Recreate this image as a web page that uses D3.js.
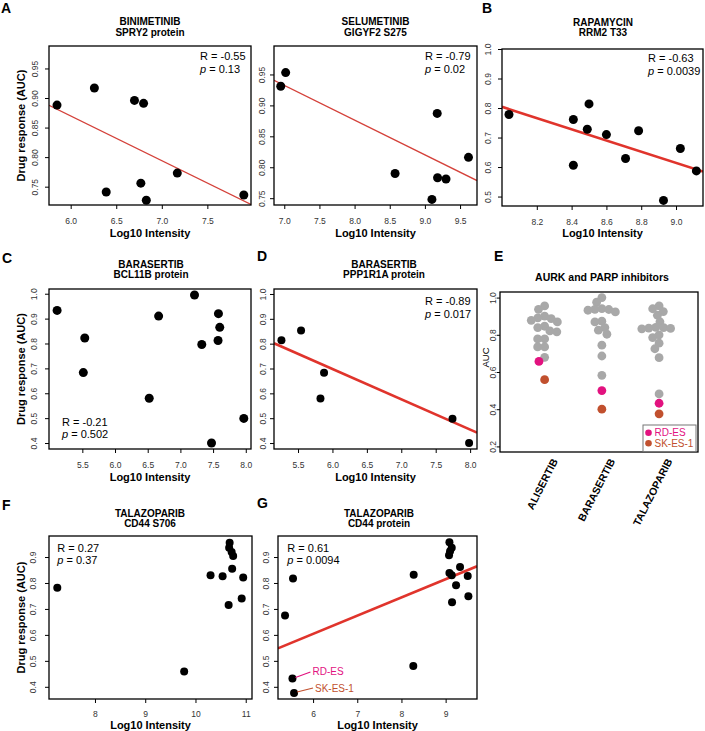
<!DOCTYPE html>
<html><head><meta charset="utf-8">
<script src="https://cdn.jsdelivr.net/npm/d3@7"></script>
<style>body{margin:0;background:#fff}</style>
</head><body>
<script>
// ---------------- DATA ----------------
// A (left): BINIMETINIB vs SPRY2 protein
const binimetinibX = [5.85, 6.26, 6.70, 6.80, 6.39, 6.77, 6.83, 7.17, 7.90];
const binimetinibY = [0.888, 0.917, 0.896, 0.891, 0.741, 0.756, 0.727, 0.773, 0.736];
const binimetinibFit = [1.324, -0.0757];
const binimetinibStats = ["R = -0.55", "0.13"];
// A (right): SELUMETINIB vs GIGYF2 S275
const selumetinibX = [6.95, 7.02, 9.175, 8.576, 9.18, 9.30, 9.10, 9.62];
const selumetinibY = [0.931, 0.953, 0.887, 0.790, 0.783, 0.781, 0.748, 0.816];
const selumetinibFit = [1.325, -0.0561];
const selumetinibStats = ["R = -0.79", "0.02"];
// B: RAPAMYCIN vs RRM2 T33
const rapamycinX = [8.04, 8.41, 8.50, 8.49, 8.60, 8.41, 8.785, 8.71, 9.025, 9.117, 8.928];
const rapamycinY = [0.778, 0.761, 0.814, 0.728, 0.710, 0.606, 0.723, 0.629, 0.663, 0.587, 0.487];
const rapamycinFit = [2.324, -0.190];
const rapamycinStats = ["R = -0.63", "0.0039"];
// C: BARASERTIB vs BCL11B protein
const baraBcl11bX = [5.114, 5.537, 5.515, 6.523, 6.667, 7.216, 7.327, 7.582, 7.602, 7.576, 7.476, 7.97];
const baraBcl11bY = [0.933, 0.822, 0.683, 0.580, 0.910, 0.995, 0.796, 0.920, 0.865, 0.812, 0.400, 0.499];
const baraBcl11bStats = ["R = -0.21", "0.502"];
// D: BARASERTIB vs PPP1R1A protein
const baraPpp1r1aX = [5.259, 5.544, 5.878, 5.826, 7.744, 7.985];
const baraPpp1r1aY = [0.814, 0.853, 0.683, 0.579, 0.498, 0.400];
const baraPpp1r1aFit = [1.430, -0.122];
const baraPpp1r1aStats = ["R = -0.89", "0.017"];
// E: AURK and PARP inhibitors (AUC per cell line)
const eCategories = ["ALISERTIB", "BARASERTIB", "TALAZOPARIB"];
const eGrey = [
  [0.955,0.937,0.900,0.891,0.887,0.878,0.869,0.846,0.839,0.821,0.816,0.778,0.778,0.735,0.735,0.679],
  [1.0,0.975,0.941,0.936,0.937,0.932,0.923,0.873,0.869,0.839,0.825,0.803,0.744,0.686,0.582],
  [0.955,0.940,0.925,0.905,0.870,0.840,0.838,0.836,0.834,0.832,0.800,0.785,0.755,0.725,0.677,0.482]
];
const eRdEs = [0.657, 0.500, 0.432];
const eSkEs1 = [0.559, 0.400, 0.375];
const eLegend = ["RD-ES", "SK-ES-1"];
// F: TALAZOPARIB vs CD44 S706
const talaS706X = [7.25, 9.775, 10.30, 10.54, 10.95, 10.92, 10.66, 10.73, 10.68, 10.67, 10.72, 10.75];
const talaS706Y = [0.782, 0.459, 0.830, 0.826, 0.821, 0.740, 0.715, 0.855, 0.955, 0.936, 0.919, 0.904];
const talaS706Stats = ["R = 0.27", "0.37"];
// G: TALAZOPARIB vs CD44 protein
const talaCd44X = [5.365, 5.546, 5.533, 5.569, 8.277, 8.268, 9.086, 9.138, 9.10, 9.077, 9.086, 9.326, 9.138, 9.50, 9.236, 9.145, 9.515];
const talaCd44Y = [0.675, 0.817, 0.432, 0.376, 0.832, 0.480, 0.957, 0.936, 0.922, 0.907, 0.838, 0.862, 0.830, 0.827, 0.791, 0.726, 0.749];
const talaCd44Fit = [0.1826, 0.0702];
const talaCd44Stats = ["R = 0.61", "0.0094"];
const talaCd44Labels = [{i: 2, text: "RD-ES"}, {i: 3, text: "SK-ES-1"}];

// ---------------- DRAWING ----------------
const FONT = '"Liberation Sans", Arial, Helvetica, sans-serif';
const MAGENTA = '#e2127f', BROWN = '#c1502e', GREY = '#a8a8a8';
const svg = d3.select('body').append('svg')
  .attr('width', 705).attr('height', 731)
  .style('font-family', FONT);
svg.append('rect').attr('width', 705).attr('height', 731).attr('fill', '#fff');

function letter(t, x, y) {
  svg.append('text').attr('x', x).attr('y', y).text(t)
    .attr('font-size', 14).attr('font-weight', 'bold');
}
function title(lines, cx, y1, y2) {
  svg.append('text').attr('x', cx).attr('y', y1).text(lines[0])
    .attr('font-size', 10).attr('font-weight', 'bold').attr('text-anchor', 'middle');
  if (lines[1]) svg.append('text').attr('x', cx).attr('y', y2).text(lines[1])
    .attr('font-size', 10).attr('font-weight', 'bold').attr('text-anchor', 'middle');
}
function yAxis(g, y, x0, ticks, fmt, off, tick) {
  const ga = g.append('g').attr('transform', `translate(${x0},0)`)
    .call(d3.axisLeft(y).tickValues(ticks).tickFormat(d3.format(fmt)).tickSize(tick || 4).tickSizeOuter(0));
  ga.attr('font-family', null).attr('font-size', 8.5);
  ga.select('.domain').remove();
  ga.selectAll('line').attr('stroke', '#000');
  ga.selectAll('text').attr('x', 0).attr('dy', 0).attr('text-anchor', 'middle')
    .attr('fill', '#333').attr('transform', `translate(${-off},0) rotate(-90)`);
}
function xAxis(g, x, y1, ticks, fmt, pad) {
  const ga = g.append('g').attr('transform', `translate(0,${y1})`)
    .call(d3.axisBottom(x).tickValues(ticks).tickFormat(d3.format(fmt)).tickSize(4).tickPadding(pad).tickSizeOuter(0));
  ga.attr('font-family', null).attr('font-size', 8.5);
  ga.select('.domain').remove();
  ga.selectAll('line').attr('stroke', '#000');
  ga.selectAll('text').attr('fill', '#333');
}
function stats(s, x, y, dy) {
  svg.append('text').attr('x', x).attr('y', y).text(s[0]).attr('font-size', 11);
  const t = svg.append('text').attr('x', x).attr('y', y + dy).attr('font-size', 11);
  t.append('tspan').attr('font-style', 'italic').text('p');
  t.append('tspan').text(' = ' + s[1]);
}

function scatter(p) {
  const x = d3.scaleLinear().domain(p.xDom).range([p.x0, p.x1]);
  const y = d3.scaleLinear().domain(p.yDom).range([p.y1, p.y0]);
  const g = svg.append('g');
  xAxis(g, x, p.y1, p.xTicks, p.xFmt, p.xPad);
  yAxis(g, y, p.x0, p.yTicks, p.yFmt, p.yOff);
  const clip = 'clip' + Math.round(p.x0) + '_' + Math.round(p.y0);
  svg.append('clipPath').attr('id', clip).append('rect')
    .attr('x', p.x0).attr('y', p.y0).attr('width', p.x1 - p.x0).attr('height', p.y1 - p.y0);
  if (p.fit) {
    const [a, b] = p.fit;
    g.append('line').attr('clip-path', `url(#${clip})`)
      .attr('x1', x(p.xDom[0])).attr('y1', y(a + b * p.xDom[0]))
      .attr('x2', x(p.xDom[1])).attr('y2', y(a + b * p.xDom[1]))
      .attr('stroke', p.fitColor).attr('stroke-width', p.fitW);
  }
  g.selectAll('circle.pt').data(p.xs.map((v, i) => [v, p.ys[i]])).join('circle')
    .attr('class', 'pt').attr('cx', d => x(d[0])).attr('cy', d => y(d[1])).attr('r', p.r).attr('fill', '#000');
  g.append('rect').attr('x', p.x0).attr('y', p.y0).attr('width', p.x1 - p.x0).attr('height', p.y1 - p.y0)
    .attr('fill', 'none').attr('stroke', '#000').attr('stroke-width', 1.3);
  svg.append('text').attr('x', (p.x0 + p.x1) / 2).attr('y', p.y1 + p.xLabGap).text('Log10 Intensity')
    .attr('font-size', 11).attr('font-weight', 'bold').attr('text-anchor', 'middle');
  if (p.yLab) svg.append('text')
    .attr('transform', `translate(${p.x0 - 24},${(p.y0 + p.y1) / 2}) rotate(-90)`)
    .attr('text-anchor', 'middle').attr('font-size', 11).attr('font-weight', 'bold').text(p.yLab);
  stats(p.stats, p.sx, p.sy, 12.7);
  return {x, y};
}

// Panel A
letter('A', 1, 12.5);
title(['BINIMETINIB', 'SPRY2 protein'], 150, 25, 35.5);
scatter({x0: 49, x1: 251, y0: 46, y1: 205, xDom: [5.762, 7.979], yDom: [0.719, 0.988],
  xTicks: [6, 6.5, 7, 7.5], xFmt: '.1f', yTicks: [0.75, 0.8, 0.85, 0.9, 0.95], yFmt: '.2f',
  xs: binimetinibX, ys: binimetinibY, fit: binimetinibFit, fitColor: '#d4413a', fitW: 1.3, r: 4.5,
  xPad: 8.5, yOff: 11, xLabGap: 32, yLab: 'Drug response (AUC)', stats: binimetinibStats, sx: 200, sy: 60});
title(['SELUMETINIB', 'GIGYF2 S275'], 375.5, 25, 35.5);
scatter({x0: 274, x1: 477, y0: 46, y1: 205, xDom: [6.854, 9.741], yDom: [0.739, 0.996],
  xTicks: [7, 7.5, 8, 8.5, 9, 9.5], xFmt: '.1f', yTicks: [0.75, 0.8, 0.85, 0.9, 0.95], yFmt: '.2f',
  xs: selumetinibX, ys: selumetinibY, fit: selumetinibFit, fitColor: '#d4413a', fitW: 1.3, r: 4.5,
  xPad: 8.5, yOff: 9, xLabGap: 32, stats: selumetinibStats, sx: 425, sy: 60});

// Panel B
letter('B', 482, 12.5);
title(['RAPAMYCIN', 'RRM2 T33'], 603, 26, 36);
scatter({x0: 502, x1: 703, y0: 49, y1: 206, xDom: [8.0, 9.155], yDom: [0.468, 1.0],
  xTicks: [8.2, 8.4, 8.6, 8.8, 9.0], xFmt: '.1f', yTicks: [0.5, 0.6, 0.7, 0.8, 0.9, 1.0], yFmt: '.1f',
  xs: rapamycinX, ys: rapamycinY, fit: rapamycinFit, fitColor: '#e0342c', fitW: 2.6, r: 4.5,
  xPad: 8.5, yOff: 11, xLabGap: 31, stats: rapamycinStats, sx: 648, sy: 62});

// Panel C
letter('C', 2, 263);
title(['BARASERTIB', 'BCL11B protein'], 151, 268, 278);
scatter({x0: 49, x1: 251, y0: 289, y1: 449, xDom: [4.99, 8.08], yDom: [0.376, 1.019],
  xTicks: [5.5, 6, 6.5, 7, 7.5, 8], xFmt: '.1f', yTicks: [0.4, 0.5, 0.6, 0.7, 0.8, 0.9, 1.0], yFmt: '.1f',
  xs: baraBcl11bX, ys: baraBcl11bY, r: 4.5,
  xPad: 8.5, yOff: 12, xLabGap: 32, yLab: 'Drug response (AUC)', stats: baraBcl11bStats, sx: 62, sy: 425.7});

// Panel D
letter('D', 257, 261);
title(['BARASERTIB', 'PPP1R1A protein'], 384, 268, 278);
scatter({x0: 274, x1: 477, y0: 289, y1: 449, xDom: [5.151, 8.10], yDom: [0.376, 1.02],
  xTicks: [5.5, 6, 6.5, 7, 7.5, 8], xFmt: '.1f', yTicks: [0.4, 0.5, 0.6, 0.7, 0.8, 0.9, 1.0], yFmt: '.1f',
  xs: baraPpp1r1aX, ys: baraPpp1r1aY, fit: baraPpp1r1aFit, fitColor: '#e0342c', fitW: 2.6, r: 4,
  xPad: 8.5, yOff: 8.5, xLabGap: 32, stats: baraPpp1r1aStats, sx: 425, sy: 305});

// Panel E
letter('E', 494, 261);
svg.append('text').attr('x', 602).attr('y', 281).text('AURK and PARP inhibitors')
  .attr('font-size', 10.5).attr('font-weight', 'bold').attr('text-anchor', 'middle');
(function () {
  const E = {x0: 500, x1: 698, y0: 292, y1: 452};
  const y = d3.scaleLinear().domain([0.17, 1.03]).range([E.y1, E.y0]);
  const x = d3.scaleLinear().domain([0.22, 3.68]).range([E.x0, E.x1]);
  const g = svg.append('g');
  yAxis(g, y, E.x0, [0.2, 0.4, 0.6, 0.8, 1.0], '.1f', 4, 3.3);
  const xa = g.append('g').attr('transform', `translate(0,${E.y1})`)
    .call(d3.axisBottom(x).tickValues([1, 2, 3]).tickFormat(i => eCategories[i - 1]).tickSize(0));
  xa.attr('font-family', null).attr('font-size', 10.5).attr('font-weight', 'bold');
  xa.select('.domain').remove();
  xa.selectAll('text').attr('y', 0).attr('dy', 0).attr('text-anchor', 'end')
    .attr('transform', 'translate(13,9) rotate(-63)');
  svg.append('text').attr('transform', `translate(488.5,357.5) rotate(-90)`)
    .attr('text-anchor', 'middle').attr('font-size', 9.5).text('AUC');

  const D = 7, R = 4.4;
  function swarm(items, cx) {
    const pts = items.map(d => ({...d, py: y(d.v)})).sort((a, b) => a.py - b.py);
    const placed = [];
    for (const p of pts) {
      const cands = [0];
      for (const q of placed) {
        const dy = Math.abs(q.py - p.py);
        if (dy < D) { const dx = Math.sqrt(D * D - dy * dy); cands.push(q.dx + dx, q.dx - dx); }
      }
      cands.sort((a, b) => Math.abs(a) - Math.abs(b) || a - b);
      for (const c of cands) {
        if (placed.every(q => (q.dx - c) ** 2 + (q.py - p.py) ** 2 >= D * D - 1e-6)) { p.dx = c; break; }
      }
      placed.push(p);
    }
    return placed.map(p => ({...p, px: cx + p.dx}));
  }
  eCategories.forEach((c, i) => {
    const items = eGrey[i].map(v => ({v, col: GREY}))
      .concat([{v: eRdEs[i], col: MAGENTA}, {v: eSkEs1[i], col: BROWN}]);
    const pts = swarm(items, x(i + 1));
    g.selectAll(null).data(pts).join('circle')
      .attr('cx', d => d.px).attr('cy', d => d.py).attr('r', R).attr('fill', d => d.col);
  });
  g.append('rect').attr('x', E.x0).attr('y', E.y0).attr('width', E.x1 - E.x0).attr('height', E.y1 - E.y0)
    .attr('fill', 'none').attr('stroke', '#000').attr('stroke-width', 1.3);
  // legend
  const lg = g.append('g');
  lg.append('rect').attr('x', 643).attr('y', 425).attr('width', 53).attr('height', 26.5)
    .attr('fill', '#fff').attr('stroke', '#777').attr('stroke-width', 1);
  [MAGENTA, BROWN].forEach((col, k) => {
    lg.append('circle').attr('cx', 648.5).attr('cy', 432.7 + k * 10.6).attr('r', 3.3).attr('fill', col);
    lg.append('text').attr('x', 654.5).attr('y', 436.4 + k * 10.6).attr('font-size', 10)
      .attr('fill', col).text(eLegend[k]);
  });
})();

// Panel F
letter('F', 2, 510);
title(['TALAZOPARIB', 'CD44 S706'], 150, 517, 527);
scatter({x0: 49, x1: 252, y0: 536, y1: 699, xDom: [7.085, 11.125], yDom: [0.353, 0.981],
  xTicks: [8, 9, 10, 11], xFmt: 'd', yTicks: [0.4, 0.5, 0.6, 0.7, 0.8, 0.9], yFmt: '.1f',
  xs: talaS706X, ys: talaS706Y, r: 4,
  xPad: 7.5, yOff: 13, xLabGap: 30, yLab: 'Drug response (AUC)', stats: talaS706Stats, sx: 57.3, sy: 551.7});

// Panel G
letter('G', 257, 508);
title(['TALAZOPARIB', 'CD44 protein'], 379, 517, 527);
(function () {
  const s = scatter({x0: 278, x1: 477, y0: 536, y1: 699, xDom: [5.206, 9.71], yDom: [0.353, 0.981],
    xTicks: [6, 7, 8, 9], xFmt: 'd', yTicks: [0.4, 0.5, 0.6, 0.7, 0.8, 0.9], yFmt: '.1f',
    xs: talaCd44X, ys: talaCd44Y, fit: talaCd44Fit, fitColor: '#e0342c', fitW: 2.6, r: 4,
    xPad: 7.5, yOff: 9, xLabGap: 30, stats: talaCd44Stats, sx: 287.3, sy: 551.7});
  const cols = [MAGENTA, BROWN];
  const offs = [[18, -6.5], [19, -5]];
  talaCd44Labels.forEach((L, k) => {
    const px = s.x(talaCd44X[L.i]), py = s.y(talaCd44Y[L.i]);
    svg.append('line').attr('x1', px + 3).attr('y1', py - 1)
      .attr('x2', px + offs[k][0]).attr('y2', py + offs[k][1])
      .attr('stroke', cols[k]).attr('stroke-width', 1.2);
    svg.append('text').attr('x', px + offs[k][0] + 2).attr('y', py + offs[k][1] + 3.5)
      .attr('font-size', 10).attr('fill', cols[k]).text(L.text);
  });
})();
</script>
</body></html>
